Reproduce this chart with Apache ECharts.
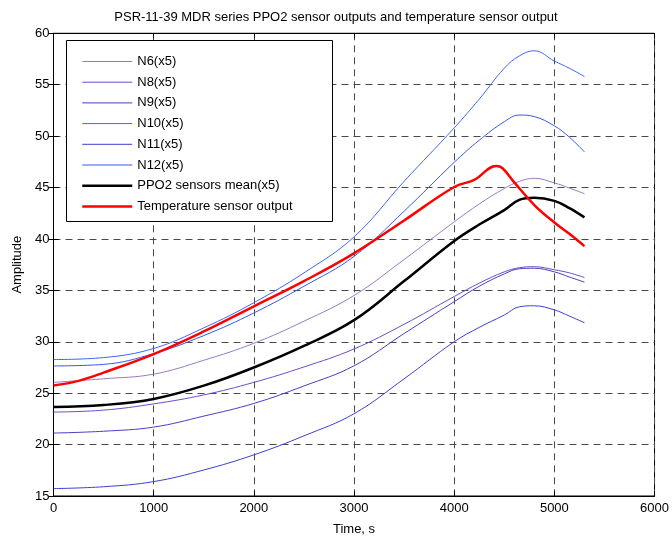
<!DOCTYPE html>
<html>
<head>
<meta charset="utf-8">
<script src="https://cdn.jsdelivr.net/npm/echarts@6/dist/echarts.min.js"></script>
<style>html,body{margin:0;padding:0;background:#fff;}#c{width:672px;height:541px;}</style>
</head>
<body>
<div id="c"></div>
<script>
const titleText = 'PSR-11-39 MDR series PPO2 sensor outputs and temperature sensor output';
const xName = 'Time, s';
const yName = 'Amplitude';
const xTicks = [0, 1000, 2000, 3000, 4000, 5000, 6000];
const yTicks = [15, 20, 25, 30, 35, 40, 45, 50, 55, 60];

const seriesNames = ['N6(x5)', 'N8(x5)', 'N9(x5)', 'N10(x5)', 'N11(x5)', 'N12(x5)', 'PPO2 sensors mean(x5)', 'Temperature sensor output'];

const timeS = [0, 500, 1000, 1500, 2000, 2500, 3000, 3500, 4000, 4250, 4500, 4650, 4800, 5000, 5150, 5300];
const n6  = [26.05, 26.4, 26.85, 28.2, 29.85, 32.0, 34.5, 38.0, 41.66, 43.4, 44.9, 45.6, 45.9, 45.45, 44.95, 44.4];
const n8  = [23.16, 23.35, 23.96, 24.83, 26.05, 27.55, 29.3, 31.7, 34.4, 35.7, 36.8, 37.2, 37.3, 37.0, 36.7, 36.25];
const n9  = [21.12, 21.3, 21.7, 22.77, 24.0, 25.7, 27.66, 30.8, 33.9, 35.4, 36.6, 37.1, 37.15, 36.8, 36.3, 35.8];
const n10 = [28.27, 28.46, 29.35, 31.35, 33.8, 36.7, 40.2, 45.6, 50.8, 53.6, 56.6, 57.8, 58.3, 57.3, 56.6, 55.8];
const n11 = [15.72, 15.9, 16.4, 17.53, 19.0, 20.85, 23.0, 26.4, 30.0, 31.4, 32.6, 33.4, 33.5, 33.1, 32.5, 31.85];
const n12 = [27.65, 27.8, 28.85, 30.6, 32.8, 35.4, 38.3, 42.7, 47.45, 49.6, 51.4, 52.05, 51.9, 51.0, 49.9, 48.47];
const meanV = [23.65, 23.85, 24.44, 25.73, 27.5, 29.6, 32.1, 35.9, 39.8, 41.4, 42.8, 43.8, 44.0, 43.7, 43.0, 42.1];

const timeT = [0, 250, 500, 1000, 1500, 2000, 2500, 3000, 3500, 4000, 4200, 4420, 4480, 4600, 4800, 5000, 5150, 5300];
const tempV = [25.75, 26.2, 27.0, 28.8, 31.0, 33.45, 35.9, 38.6, 41.8, 45.05, 45.75, 47.1, 46.9, 45.5, 43.3, 41.6, 40.5, 39.3];

const colors = ['#9a78c8', '#6c4cc8', '#4a3ec2', '#4066f0', '#3c40d0', '#3458ee', '#000000', '#ff0000'];
const widths = [1, 1, 1, 1, 1, 1, 2.5, 2.5];
const dataSets = [n6, n8, n9, n10, n11, n12, meanV];

const pair = (xs, ys) => xs.map((x, i) => [x, ys[i]]);

const FONT = 'Liberation Sans, Arial, sans-serif';

const series = seriesNames.map((name, i) => ({
  name: name,
  type: 'line',
  xAxisIndex: 0,
  yAxisIndex: 0,
  data: i < 7 ? pair(timeS, dataSets[i]) : pair(timeT, tempV),
  smooth: 0.4,
  symbol: 'none',
  showSymbol: false,
  animation: false,
  lineStyle: { color: colors[i], width: widths[i] },
  itemStyle: { color: colors[i] },
  z: i >= 6 ? 5 : 3
}));

const chart = echarts.init(document.getElementById('c'), null, { renderer: 'canvas' });
const gridL = 53.5, gridR = 16.5, gridT = 33.3, gridB = 41.3;

const xCommon = { type: 'value', min: 0, max: 6000, interval: 1000 };
const yCommon = { type: 'value', min: 15, max: 60, interval: 5 };

chart.setOption({
  backgroundColor: '#ffffff',
  animation: false,
  title: {
    text: titleText,
    left: 'center',
    top: 6,
    textStyle: { fontFamily: FONT, fontSize: 13, fontWeight: 'normal', color: '#000' }
  },
  grid: { left: gridL, right: gridR, top: gridT, bottom: gridB, show: true, borderColor: '#000', borderWidth: 1, backgroundColor: 'transparent' },
  legend: {
    orient: 'vertical',
    left: 76,
    top: 50,
    itemWidth: 50,
    itemHeight: 14,
    itemGap: 7.7,
    z: 30,
    data: seriesNames,
    itemStyle: { opacity: 0 },
    lineStyle: { width: 'inherit', color: 'inherit' },
    textStyle: { fontFamily: FONT, fontSize: 13, color: '#000' },
    selectedMode: false
  },
  graphic: [{
    type: 'rect',
    shape: { x: 66.5, y: 40.5, width: 266, height: 181 },
    style: { fill: '#fff', stroke: '#000', lineWidth: 1 },
    z: 20
  }],
  xAxis: [
    Object.assign({}, xCommon, {
      position: 'bottom',
      name: xName,
      nameLocation: 'middle',
      nameGap: 27,
      nameTextStyle: { fontFamily: FONT, fontSize: 13, color: '#000' },
      axisLine: { show: true, lineStyle: { color: '#000', width: 1 } },
      axisTick: { show: true, inside: true, length: 5, lineStyle: { color: '#000' } },
      axisLabel: { fontFamily: FONT, fontSize: 13, color: '#000', margin: 6, formatter: v => xTicks.includes(v) ? String(v) : '' },
      splitLine: { show: true, lineStyle: { color: '#4a4a4a', width: 1, type: [7, 5] } }
    }),
    Object.assign({}, xCommon, {
      position: 'top',
      axisLine: { show: true, lineStyle: { color: '#000', width: 1 } },
      axisTick: { show: true, inside: true, length: 5, lineStyle: { color: '#000' } },
      axisLabel: { show: false },
      splitLine: { show: false }
    })
  ],
  yAxis: [
    Object.assign({}, yCommon, {
      position: 'left',
      name: yName,
      nameLocation: 'middle',
      nameGap: 30,
      nameRotate: 90,
      nameTextStyle: { fontFamily: FONT, fontSize: 13, color: '#000' },
      axisLine: { show: true, lineStyle: { color: '#000', width: 1 } },
      axisTick: { show: true, inside: true, length: 5, lineStyle: { color: '#000' } },
      axisLabel: { fontFamily: FONT, fontSize: 13, color: '#000', margin: 4, formatter: v => yTicks.includes(v) ? String(v) : '' },
      splitLine: { show: true, lineStyle: { color: '#4a4a4a', width: 1, type: [7, 5] } }
    }),
    Object.assign({}, yCommon, {
      position: 'right',
      axisLine: { show: true, lineStyle: { color: '#000', width: 1 } },
      axisTick: { show: true, inside: true, length: 5, lineStyle: { color: '#000' } },
      axisLabel: { show: false },
      splitLine: { show: false }
    })
  ],
  series: series
});
</script>
</body>
</html>
